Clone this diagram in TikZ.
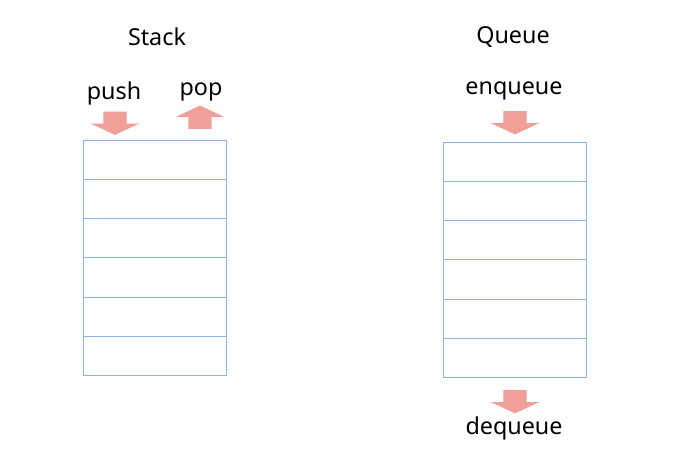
\documentclass[tikz,border=0pt]{standalone}
\usepackage{fontspec}
\setmainfont{Noto Sans}
\usetikzlibrary{shapes.arrows,positioning}
\definecolor{ArrowRed}{RGB}{240,160,152}
\definecolor{CellBlue}{RGB}{141,180,226}
\begin{document}
\begin{tikzpicture}[x=0.75pt, y=-0.75pt, font=\fontsize{17.5}{20}\selectfont,
    cell/.style={draw=CellBlue, minimum width=107.25pt, minimum height=29.4pt, inner sep=0pt, outer sep=0pt},
    blockarrow/.style={single arrow, fill=ArrowRed, inner xsep=0pt, inner ysep=8.6pt, minimum height=17.5pt, single arrow head extend=9.4pt, single arrow tip angle=130}]
    \useasboundingbox (0,0) rectangle (680,463);
    %% Titles
    \node at (157,37) (stack){Stack};
    \node at (513,37) (queue){Queue};
    \node at (114,93) (push){push};
    \node at (201,92) (pop){pop};
    \node at (514,91) (enq){enqueue};
    \node at (514,428) (deq){dequeue};

    %% Cells
    \node[cell, anchor=north west] at (83,140) (s1){};
    \foreach \i [count=\j from 2] in {1,...,5}
        \node[cell, below=0pt of s\i] (s\j){};
    \node[cell, anchor=north west] at (443,142) (q1){};
    \foreach \i [count=\j from 2] in {1,...,5}
        \node[cell, below=0pt of q\i] (q\j){};

    %% Arrows
    \node[blockarrow, rotate=-90] at (115,120.5) (pusharr){};
    \node[blockarrow, rotate=90] at (200,120) (poparr){};
    \node[blockarrow, rotate=-90] at (515,120) (enqarr){};
    \node[blockarrow, rotate=-90] at (515,399) (deqarr){};
\end{tikzpicture}
\end{document}
